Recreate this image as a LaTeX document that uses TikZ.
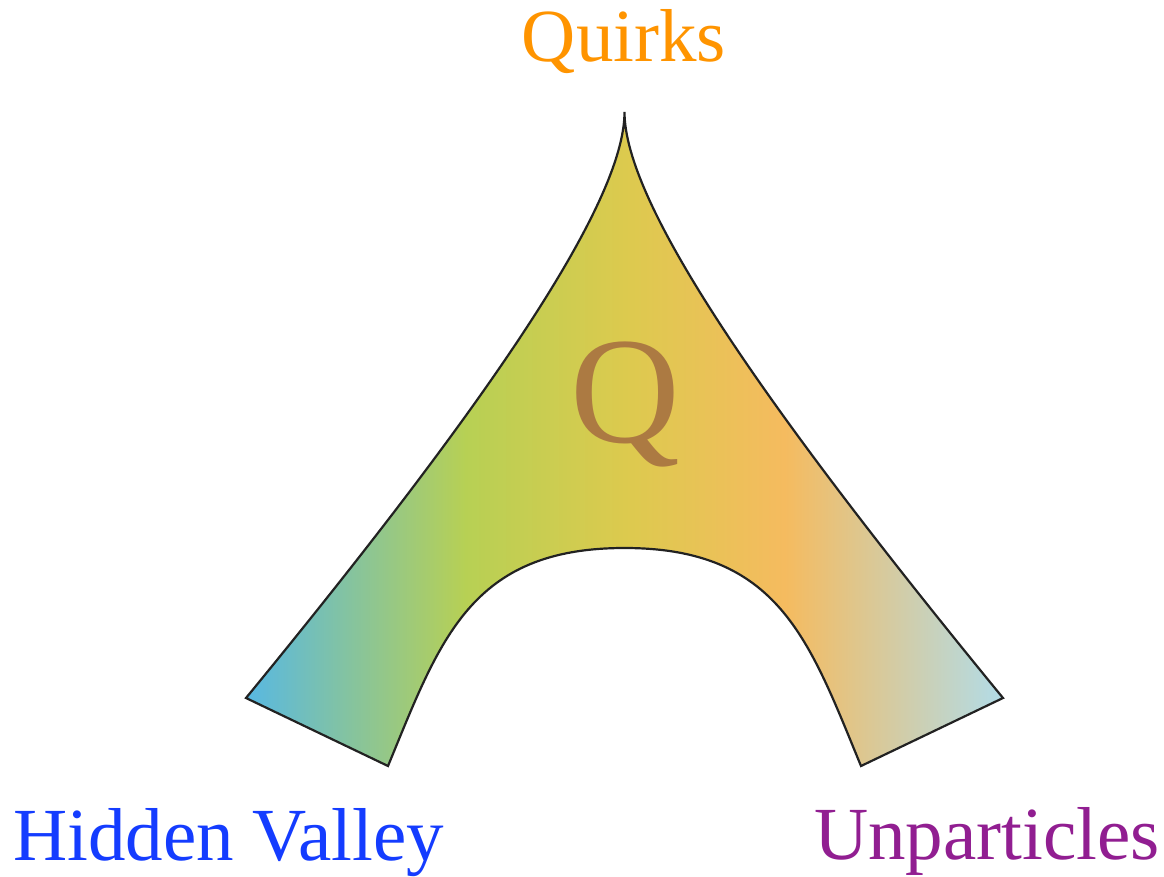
\documentclass[tikz,border=0pt]{standalone}
\usepackage{fontspec}
\setmainfont{Liberation Serif}
\definecolor{cA}{RGB}{88,184,226}
\definecolor{cB}{RGB}{183,208,84}
\definecolor{cC}{RGB}{220,202,78}
\definecolor{cD}{RGB}{245,187,95}
\definecolor{cE}{RGB}{178,220,232}
\definecolor{quirkcol}{RGB}{255,148,0}
\definecolor{hvcol}{RGB}{20,60,255}
\definecolor{unpcol}{RGB}{145,30,145}
\definecolor{qcol}{RGB}{172,122,66}
\definecolor{edgecol}{RGB}{34,34,34}
\pgfdeclarehorizontalshading{trishade}{100bp}{color(0bp)=(cA); color(25bp)=(cA); color(39.5bp)=(cB); color(50bp)=(cC); color(60.6bp)=(cD); color(75bp)=(cE); color(100bp)=(cE)}
\tikzset{
  label text/.style={inner sep=0pt, font=\fontsize{75}{80}\selectfont},
  shape edge/.style={draw=edgecol, line width=2.2pt, shading=trishade}
}
\begin{document}
\begin{tikzpicture}[x=1pt,y=-1pt]
\useasboundingbox (0,0) rectangle (1164,877);
\path[shape edge] (246,698) -- (388,766)
  .. controls (440,640) and (470,548) .. (624.5,548)
  .. controls (779,548) and (809,640) .. (861,766)
  -- (1003,698)
  .. controls (757,398) and (624.5,202) .. (624.5,112)
  .. controls (624.5,202) and (492,398) .. (246,698) -- cycle;
\node[inner sep=0pt, anchor=base, text=qcol, font=\fontsize{152}{155}\selectfont] (q) at (625,442) {Q};
\node[label text, anchor=base, text=quirkcol] (quirks) at (624,62) {Quirks};
\node[label text, anchor=base west, text=hvcol] (hv) at (13,860) {Hidden Valley};
\node[label text, anchor=base east, text=unpcol] (unp) at (1160,859) {Unparticles};
\end{tikzpicture}
\end{document}
